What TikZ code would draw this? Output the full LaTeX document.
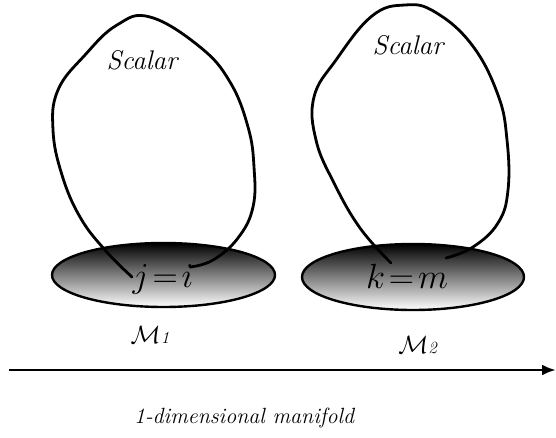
\RequirePackage{fix-cm}
\documentclass[tikz,border=0pt]{standalone}
\usepackage{amsmath}
\usepackage{fontspec}
\usetikzlibrary{arrows.meta}
\begin{document}
\begin{tikzpicture}[x=1pt,y=-1pt,
  loop/.style={line width=2.8pt, line join=round, line cap=round},
  disc/.style={draw=black, line width=2.4pt, top color=black, bottom color=white, middle color=black!50},
  lbl/.style={inner sep=0pt, font=\itshape},
  eq/.style={inner sep=0pt, font=\fontsize{35}{40}\selectfont}]
\useasboundingbox (0,0) rectangle (556,438);
% discs
\path[disc] (163.5,275) ellipse [x radius=111.5, y radius=32];
\path[disc] (413,277) ellipse [x radius=111, y radius=33];
% loops
\draw[loop] plot[smooth, tension=0.7] coordinates {
  (190,267) (213,260) (238,238) (253,207) (254,167) (248,127) (230,82)
  (200,47) (150,17) (117,25) (85,55) (58,90) (53,130) (62,175) (80,217)
  (105,250) (132,277)};
\draw[loop] plot[smooth, tension=0.7] coordinates {
  (446,258) (473,247) (498,223) (508,190) (507,140) (498,95) (472,45)
  (435,12) (405,5) (372,16) (336,60) (314,97) (316,140) (334,183)
  (360,228) (391,263)};
% texts
\node[lbl, font=\fontsize{27}{32}\selectfont\itshape] (s1) at (142,60) {Scalar};
\node[lbl, font=\fontsize{27}{32}\selectfont\itshape] (s2) at (408,45) {Scalar};
\node[eq] (e1) at (163,279) {$j\!=\!i$};
\node[eq] (e2) at (407,276) {$k\!=\!m$};
\node[lbl, font=\fontsize{25}{30}\selectfont] (m1) at (150,335) {$\mathcal{M}$\textit{\fontsize{17}{20}\selectfont 1}};
\node[lbl, font=\fontsize{25}{30}\selectfont] (m2) at (418,345) {$\mathcal{M}$\textit{\fontsize{17}{20}\selectfont 2}};
% axis
\coordinate (a0) at (9,370);
\coordinate (a1) at (556,370);
\draw[line width=2.8pt, -{Latex[length=14pt,width=11pt]}] (a0) -- (a1);
\node[lbl, font=\fontsize{22}{26}\selectfont\itshape] (dim) at (244,418) {1-dimensional manifold};
\end{tikzpicture}
\end{document}
